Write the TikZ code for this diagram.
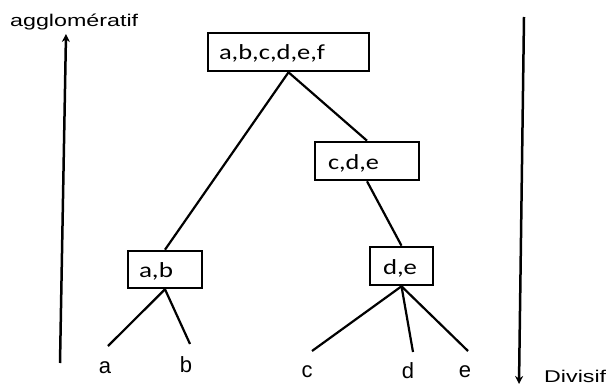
\documentclass[tikz,border=0pt]{standalone}
\usepackage{fontspec}
\usepackage{graphicx}
\setmainfont{Liberation Sans}
\newfontfamily\boxfont{Carlito}
\usetikzlibrary{arrows.meta}
\newcommand\fitw[2]{\resizebox{#1}{\height}{#2}}
\tikzset{
  clusterbox/.style={draw, line width=2.6pt, inner ysep=0pt, align=left,
    font=\boxfont\fontsize{21.5}{21.5}\selectfont, text height=17pt, text depth=1pt},
  link/.style={line width=2.2pt},
  axis/.style={line width=2.5pt, -{Stealth[length=8pt,width=8pt]}},
  leaf/.style={anchor=base, inner sep=0pt, font=\fontsize{22}{22}\selectfont},
  side/.style={anchor=base west, inner sep=0pt, font=\fontsize{17}{17}\selectfont}
}
\begin{document}
\begin{tikzpicture}[x=1pt, y=-1pt]
\useasboundingbox (0,0) rectangle (607,385);
% boxes
\node[clusterbox, minimum width=161pt, minimum height=38pt, inner xsep=11pt, text width=139pt] (root) at (288.5,52) {\fitw{106pt}{a,b,c,d,e,f}};
\node[clusterbox, minimum width=104pt, minimum height=38pt, inner xsep=13pt, text width=78pt] (cde) at (367,161) {\fitw{51pt}{c,d,e}};
\node[clusterbox, minimum width=74pt, minimum height=37pt, inner xsep=11pt, text width=52pt] (ab) at (165,269.5) {\fitw{34pt}{a,b}};
\node[clusterbox, minimum width=63pt, minimum height=38pt, inner xsep=13pt, text width=37pt] (de) at (401.5,266) {\fitw{34pt}{d,e}};
% leaf line ends
\coordinate (ea) at (108,346);
\coordinate (eb) at (190,344);
\coordinate (ec) at (312,351);
\coordinate (ed) at (413,352);
\coordinate (ee) at (468,351);
% leaf labels
\node[leaf] (la) at (105,373) {a};
\node[leaf] (lb) at (186,372) {b};
\node[leaf] (lc) at (307,377) {c};
\node[leaf] (ld) at (408,378) {d};
\node[leaf] (le) at (465,377) {e};
% connectors
\draw[link] (root.south) -- (ab.north);
\draw[link] (root.south) -- (cde.north);
\draw[link] (cde.south) -- (de.north);
\draw[link] (ab.south) -- (ea);
\draw[link] (ab.south) -- (eb);
\draw[link] (de.south) -- (ec);
\draw[link] (de.south) -- (ed);
\draw[link] (de.south) -- (ee);
% axes
\coordinate (lbot) at (60,363);
\coordinate (ltop) at (66,34);
\coordinate (rtop) at (524,17);
\coordinate (rbot) at (519,384);
\draw[axis] (lbot) -- (ltop);
\draw[axis] (rtop) -- (rbot);
\node[side] (agg) at (10,27) {\fitw{128pt}{agglomératif}};
\node[side] (div) at (544,382) {\fitw{62pt}{Divisif}};
\end{tikzpicture}
\end{document}
